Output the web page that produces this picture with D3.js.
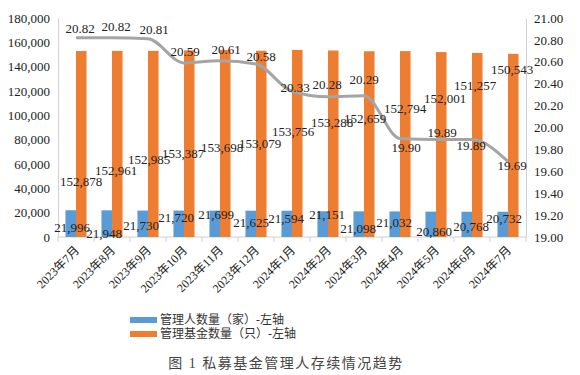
<!DOCTYPE html>
<html>
<head>
<meta charset="utf-8">
<script src="https://cdn.jsdelivr.net/npm/d3@7"></script>
<style>
  body { margin: 0; background: #fff; }
  svg text { font-family: "Liberation Serif", "Noto Sans CJK SC", serif; }
</style>
</head>
<body>
<div id="chart"></div>
<script>
// data
const months = ["2023年7月", "2023年8月", "2023年9月", "2023年10月", "2023年11月", "2023年12月",
                "2024年1月", "2024年2月", "2024年3月", "2024年4月", "2024年5月", "2024年6月", "2024年7月"];
const managers = [21996, 21948, 21730, 21720, 21699, 21625, 21594, 21151, 21098, 21032, 20860, 20768, 20732];
const funds = [152878, 152961, 152985, 153387, 153698, 153079, 153756, 153288, 152659, 152794, 152001, 151257, 150543];
const avgFunds = [20.82, 20.82, 20.81, 20.59, 20.61, 20.58, 20.33, 20.28, 20.29, 19.90, 19.89, 19.89, 19.69];
const leftTicks = [0, 20000, 40000, 60000, 80000, 100000, 120000, 140000, 160000, 180000];
const rightTicks = [19.00, 19.20, 19.40, 19.60, 19.80, 20.00, 20.20, 20.40, 20.60, 20.80, 21.00];
const legendNames = ["管理人数量（家）-左轴", "管理基金数量（只）-左轴"];
const title = "图 1  私募基金管理人存续情况趋势";

// label nudges (px) - labels in the original were dragged around by hand
const managerLabelOff = [[-4,17],[-8,23],[-7,15],[-8,7],[-4,4],[-5,12],[-6,8],[-1,3],[-6,17],[-6,11],[-2,20],[-1,15],[-4,7]];
const fundLabelOff = [[5,130],[4,120],[1,109],[-1,103],[2,97],[4,93],[1,82],[4,72],[1,67],[5,57],[9,46],[3,32],[4,16]];
const avgLabelOff = [[4,-9],[4,-11],[6,-9],[1,-11],[6,-11],[5,-8],[3,-4],[-1,-12],[0,-16],[6,9],[6,-7],[-1,6],[4,4]];

const W = 580, H = 375;
const plotL = 58, plotR = 526, plotT = 18, plotB = 237;
const blue = "#5b9bd5", orange = "#ed7d31", grey = "#a5a5a5";

const svg = d3.select("#chart").append("svg")
    .attr("width", W).attr("height", H);

const x = d3.scaleBand().domain(months).range([plotL, plotR]).paddingInner(0).paddingOuter(0);
const inner = d3.scaleBand().domain(["m", "f"]).range([0, x.bandwidth()]).paddingInner(0).paddingOuter(0.71);
const yL = d3.scaleLinear().domain([0, 180000]).range([plotB, plotT]);
const yR = d3.scaleLinear().domain([19, 21]).range([plotB, plotT]);

// axes
const axisL = svg.append("g")
    .attr("transform", `translate(${plotL},0)`)
    .call(d3.axisLeft(yL).tickValues(leftTicks).tickSize(0).tickPadding(8).tickFormat(d3.format(",")));
const axisR = svg.append("g")
    .attr("transform", `translate(${plotR},0)`)
    .call(d3.axisRight(yR).tickValues(rightTicks).tickSize(0).tickPadding(8).tickFormat(d3.format(".2f")));
[axisL, axisR].forEach(g => {
  g.select(".domain").attr("stroke", "#d0d0d0");
  g.selectAll("text").attr("font-size", 13).attr("fill", "#222")
    .attr("font-family", "Liberation Serif");
});

// x axis line with ticks between categories
const gx = svg.append("g");
gx.append("line").attr("x1", plotL).attr("x2", plotR).attr("y1", plotB).attr("y2", plotB)
    .attr("stroke", "#d0d0d0");
gx.selectAll("line.tk").data(d3.range(months.length + 1)).join("line")
    .attr("class", "tk")
    .attr("x1", i => plotL + i * x.step()).attr("x2", i => plotL + i * x.step())
    .attr("y1", plotB).attr("y2", plotB + 5).attr("stroke", "#d0d0d0");
gx.selectAll("text").data(months).join("text")
    .attr("transform", d => `translate(${x(d) + x.bandwidth() / 2 + 1},${plotB + 11}) rotate(-45)`)
    .attr("text-anchor", "end").attr("dy", "0.35em")
    .attr("font-size", 12).attr("fill", "#222")
    .text(d => d);

// bars
svg.append("g").selectAll("rect").data(managers).join("rect")
    .attr("x", (d, i) => x(months[i]) + inner("m"))
    .attr("width", inner.bandwidth())
    .attr("y", d => yL(d)).attr("height", d => plotB - yL(d))
    .attr("fill", blue);
svg.append("g").selectAll("rect").data(funds).join("rect")
    .attr("x", (d, i) => x(months[i]) + inner("f"))
    .attr("width", inner.bandwidth())
    .attr("y", d => yL(d)).attr("height", d => plotB - yL(d))
    .attr("fill", orange);

// line on right axis
const cx = i => x(months[i]) + x.bandwidth() / 2;
svg.append("path")
    .datum(avgFunds)
    .attr("fill", "none").attr("stroke", grey).attr("stroke-width", 3)
    .attr("d", d3.line().x((d, i) => cx(i)).y(d => yR(d)).curve(d3.curveMonotoneX));

// data labels
const fmt = d3.format(",");
function labels(vals, scale, off, f) {
  svg.append("g").selectAll("text").data(vals).join("text")
    .attr("x", (d, i) => cx(i) + off[i][0])
    .attr("y", (d, i) => scale(d) + off[i][1])
    .attr("dy", "0.35em").attr("text-anchor", "middle")
    .attr("font-size", 13).attr("fill", "#222")
    .text(f);
}
labels(managers, yL, managerLabelOff, fmt);
labels(funds, yL, fundLabelOff, fmt);
labels(avgFunds, yR, avgLabelOff, d3.format(".2f"));

// legend
const lg = svg.append("g").attr("transform", "translate(130,320)");
const legendColors = [blue, orange];
legendNames.forEach((name, i) => {
  lg.append("rect").attr("x", 0).attr("y", i * 14 - 3).attr("width", 27).attr("height", 6)
    .attr("fill", legendColors[i]);
  lg.append("text").attr("x", 30).attr("y", i * 14).attr("dy", "0.35em")
    .attr("font-family", "Noto Sans CJK SC").attr("font-size", 12).attr("fill", "#333")
    .text(name);
});

// caption
svg.append("text")
    .attr("x", 286).attr("y", 363).attr("dy", "0.35em").attr("text-anchor", "middle")
    .attr("font-family", "Noto Sans CJK SC").attr("font-size", 14).attr("fill", "#444")
    .attr("letter-spacing", 1.5)
    .text(title);
</script>
</body>
</html>
